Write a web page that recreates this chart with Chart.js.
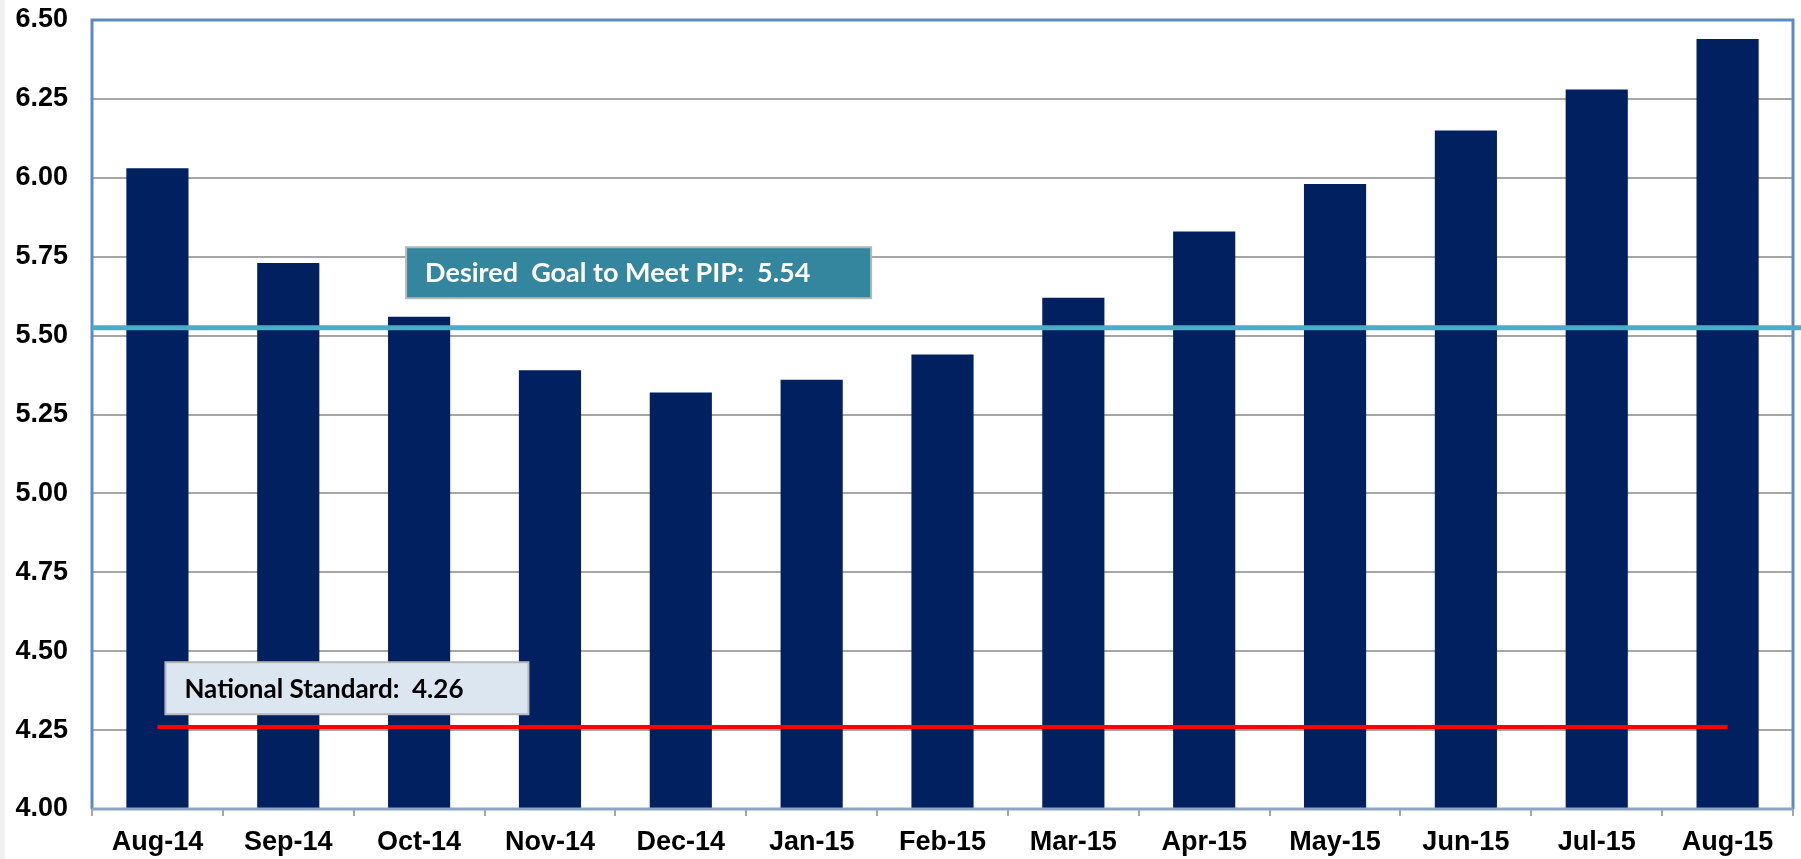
<!DOCTYPE html>
<html>
<head>
<meta charset="utf-8">
<script src="https://cdn.jsdelivr.net/npm/chart.js@4"></script>
<style>
  html, body { margin: 0; padding: 0; background: #ffffff; }
  #wrap { width: 1801px; height: 859px; position: relative; }
</style>
</head>
<body>
<div id="wrap"><canvas id="pipChart"></canvas></div>
<script>
// --- data ---
const months = ["Aug-14", "Sep-14", "Oct-14", "Nov-14", "Dec-14", "Jan-15", "Feb-15",
                "Mar-15", "Apr-15", "May-15", "Jun-15", "Jul-15", "Aug-15"];
const monthlyValues = [6.03, 5.73, 5.56, 5.39, 5.32, 5.36, 5.44, 5.62, 5.83, 5.98, 6.15, 6.28, 6.44];
const nationalStandard = [4.26, 4.26, 4.26, 4.26, 4.26, 4.26, 4.26, 4.26, 4.26, 4.26, 4.26, 4.26, 4.26];
const goalLevel = 5.525;
const goalLabel = "Desired  Goal to Meet PIP:  5.54";
const nationalLabel = "National Standard:  4.26";
const yTicks = [4.00, 4.25, 4.50, 4.75, 5.00, 5.25, 5.50, 5.75, 6.00, 6.25, 6.50];

const NAVY = "#002060";
const GRID = "#a6a6a6";
const FRAME = "#5b8bc6";

// frame, goal line and the two callout boxes
const decorations = {
    id: "decorations",
    beforeDraw(chart) {
        const c = chart.ctx;
        c.save();
        c.fillStyle = "#f0f0f0";
        c.fillRect(0, 0, 5, chart.height);
        c.restore();
    },
    afterDatasetsDraw(chart) {
        const c = chart.ctx;
        const a = chart.chartArea;
        const x = chart.scales.x;
        const y = chart.scales.y;

        c.save();
        // plot frame
        c.strokeStyle = FRAME;
        c.lineWidth = 3;
        c.beginPath();
        c.moveTo(a.left, a.bottom);
        c.lineTo(a.left, a.top);
        c.lineTo(a.right, a.top);
        c.lineTo(a.right, a.bottom);
        c.stroke();
        c.strokeStyle = "#8ea4c4";
        c.lineWidth = 3;
        c.beginPath();
        c.moveTo(a.left, a.bottom);
        c.lineTo(a.right, a.bottom);
        c.stroke();

        // goal line runs across the whole plot
        const gy = y.getPixelForValue(goalLevel);
        c.strokeStyle = "#4bacc6";
        c.lineWidth = 5;
        c.beginPath();
        c.moveTo(a.left, gy);
        c.lineTo(chart.width, gy);
        c.stroke();

        // callouts
        const box = (left, top, w, h, fill, color, size, text) => {
            c.fillStyle = fill;
            c.fillRect(left, top, w, h);
            c.strokeStyle = "#b8b8b8";
            c.lineWidth = 2;
            c.strokeRect(left, top, w, h);
            c.fillStyle = color;
            c.font = "bold " + size + "px Lato, 'Open Sans', sans-serif";
            c.textBaseline = "middle";
            c.textAlign = "left";
            c.fillText(text, left + 19, top + h / 2 + 1);
        };
        box(x.getPixelForValue(2) - 13, y.getPixelForValue(5.78), 465, 51,
            "#33869d", "#ffffff", 27, goalLabel);
        box(x.getPixelForValue(0) + 8, y.getPixelForValue(4.465), 363, 52,
            "#dce6f1", "#000000", 26, nationalLabel);
        c.restore();
    }
};

const ctx = document.getElementById("pipChart");
new Chart(ctx, {
    data: {
        labels: months,
        datasets: [
            {
                type: "line",
                data: nationalStandard,
                borderColor: "#ff0000",
                borderWidth: 4,
                pointRadius: 0,
                fill: false,
                order: 0
            },
            {
                type: "bar",
                data: monthlyValues,
                backgroundColor: NAVY,
                borderWidth: 0,
                barPercentage: 0.475,
                categoryPercentage: 1.0,
                order: 1
            }
        ]
    },
    options: {
        responsive: true,
        maintainAspectRatio: false,
        animation: false,
        layout: { padding: { top: 20, right: 8, bottom: 0, left: 0 } },
        plugins: {
            legend: { display: false },
            tooltip: { enabled: false }
        },
        scales: {
            x: {
                offset: true,
                border: { display: false },
                grid: {
                    display: true,
                    offset: true,
                    drawOnChartArea: false,
                    drawTicks: true,
                    tickLength: 7,
                    color: GRID,
                    lineWidth: 2
                },
                ticks: {
                    color: "#000000",
                    padding: 10,
                    maxRotation: 0,
                    autoSkip: false,
                    font: { family: "'Liberation Sans', Arial, sans-serif", size: 27, weight: "bold" }
                },
                afterFit(scale) { scale.height = 50; }
            },
            y: {
                min: 4,
                max: 6.5,
                border: { display: false },
                grid: { color: GRID, lineWidth: 2, drawTicks: false },
                afterBuildTicks(scale) { scale.ticks = yTicks.map(v => ({ value: v })); },
                ticks: {
                    color: "#000000",
                    padding: 24,
                    callback: v => Number(v).toFixed(2),
                    font: { family: "'Liberation Sans', Arial, sans-serif", size: 27, weight: "bold" }
                },
                afterFit(scale) {
                    scale.width = 92;
                    scale.paddingTop = 0;
                    scale.paddingBottom = 0;
                }
            }
        }
    },
    plugins: [decorations]
});
</script>
</body>
</html>
